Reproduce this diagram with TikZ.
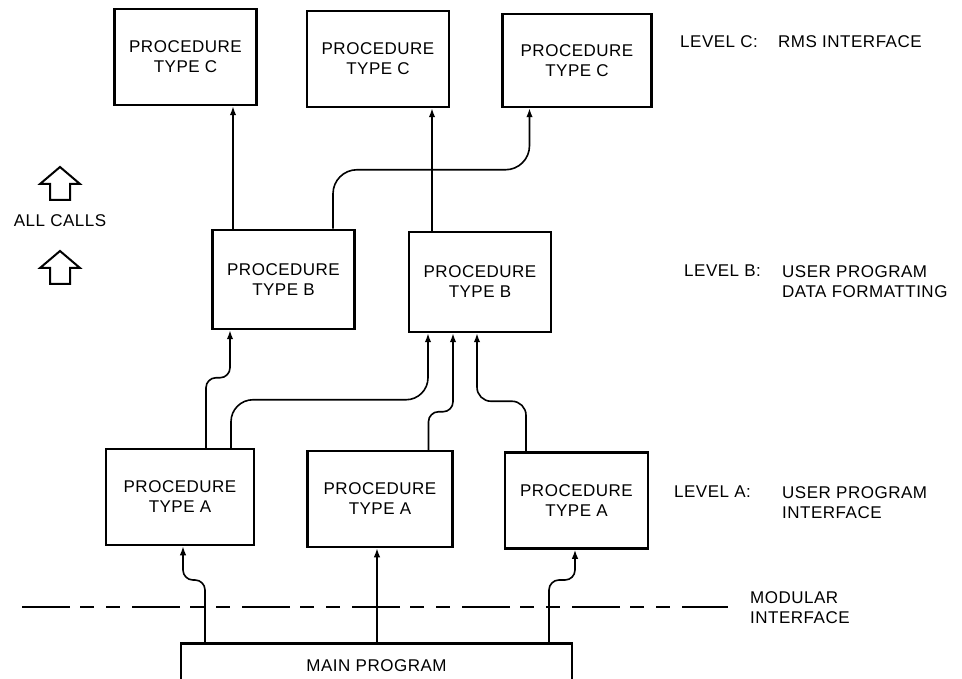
\documentclass[tikz,border=0pt]{standalone}
\usepackage{fontspec}
\setmainfont[LetterSpace=3]{Liberation Sans}
\usetikzlibrary{positioning, arrows.meta}

\tikzset{
  callsarrow/.pic={
    \draw[line width=2pt, line join=miter]
      (-10,17) -- (-10,1) -- (-20,1) -- (0,-16) -- (20,1) -- (10,1) -- (10,17) -- cycle;
  }
}

\begin{document}
\begin{tikzpicture}[
    x=1pt, y=-1pt,
    proc/.style={draw, line width=2.5pt, minimum width=142pt, minimum height=96pt, align=center, font=\fontsize{17}{20}\selectfont},
    tag/.style={inner sep=0pt, align=left, font=\fontsize{17}{20}\selectfont},
    call/.style={line width=1.6pt, rounded corners=10pt, -{Latex[length=9pt, width=6.5pt]}},
    modular/.style={line width=2.8pt, dash pattern=on 48pt off 10pt on 14pt off 12pt on 14pt off 12pt}
  ]
  \useasboundingbox (0,0) rectangle (962,679);

  % level C
  \node[proc] (c1) at (185.5,57) {PROCEDURE\\TYPE C};
  \node[proc, right=48pt of c1, yshift=-2pt] (c2) {PROCEDURE\\TYPE C};
  \node[proc, right=51pt of c2, yshift=-1.5pt, minimum width=149pt, minimum height=93pt] (c3) {PROCEDURE\\TYPE C};

  % level B
  \node[proc, minimum height=99pt] (b1) at (283.5,279.5) {PROCEDURE\\TYPE B};
  \node[proc, right=52pt of b1, yshift=-2.5pt, minimum height=100pt] (b2) {PROCEDURE\\TYPE B};

  % level A
  \node[proc, minimum width=148pt] (a1) at (180,497) {PROCEDURE\\TYPE A};
  \node[proc, right=51pt of a1, yshift=-2pt, minimum width=145pt] (a2) {PROCEDURE\\TYPE A};
  \node[proc, right=50pt of a2, yshift=-1.5pt, minimum width=143pt] (a3) {PROCEDURE\\TYPE A};

  % main program, open at the bottom edge
  \node[draw, line width=2.5pt, minimum width=391pt, minimum height=44pt, anchor=north, font=\fontsize{17}{20}\selectfont] (main) at (376.5,642) {MAIN PROGRAM};

  % modular interface
  \coordinate (modl) at (22,607);
  \coordinate (modr) at (728,607);
  \draw[modular] (modl) -- (modr);

  % calls
  \draw[call] ([xshift=-171.5pt]main.north) -- ++(0,-62) -| ([xshift=3pt]a1.south);
  \draw[call] ([xshift=0.5pt]main.north) -- ([xshift=0.5pt]main.north |- a2.south);
  \draw[call] ([xshift=172.5pt]main.north) -- ++(0,-62) -| ([xshift=-1.5pt]a3.south);

  \draw[call] ([xshift=26pt]a1.north) -- ++(0,-70) -| ([xshift=-53.5pt]b1.south);
  \draw[call, rounded corners=22pt] ([xshift=51pt]a1.north) -- ++(0,-48) -| ([xshift=-52pt]b2.south);
  \draw[call] ([xshift=48.5pt]a2.north) -- ++(0,-38) -| ([xshift=-27pt]b2.south);
  \draw[call, rounded corners=14pt] ([xshift=-50.5pt]a3.north) -- ++(0,-50) -| ([xshift=-3pt]b2.south);

  \draw[call] ([xshift=-50.5pt]b1.north) -- ([xshift=-50.5pt]b1.north |- c1.south);
  \draw[call, rounded corners=24pt] ([xshift=49.5pt]b1.north) -- ++(0,-59) -| ([xshift=-47.5pt]c3.south);
  \draw[call] ([xshift=-48pt]b2.north) -- ([xshift=-48pt]b2.north |- c2.south);

  % level labels
  \node[tag, anchor=west] (lvlc) at (680,42) {LEVEL C:};
  \node[tag, anchor=west] (lvlcdesc) at (778,42) {RMS INTERFACE};
  \node[tag, anchor=north west] (lvlb) at (684,265) {LEVEL B:};
  \node[tag, anchor=north west] (lvlbdesc) at (782,265) {USER PROGRAM\\DATA FORMATTING};
  \node[tag, anchor=north west] (lvla) at (674,486) {LEVEL A:};
  \node[tag, anchor=north west] (lvladesc) at (782,486) {USER PROGRAM\\INTERFACE};
  \node[tag, anchor=north west] (modlabel) at (750,591) {MODULAR\\INTERFACE};

  % all calls
  \pic at (60,183) {callsarrow};
  \node[tag] (allcalls) at (60,221) {ALL CALLS};
  \pic at (60,267) {callsarrow};
\end{tikzpicture}
\end{document}
